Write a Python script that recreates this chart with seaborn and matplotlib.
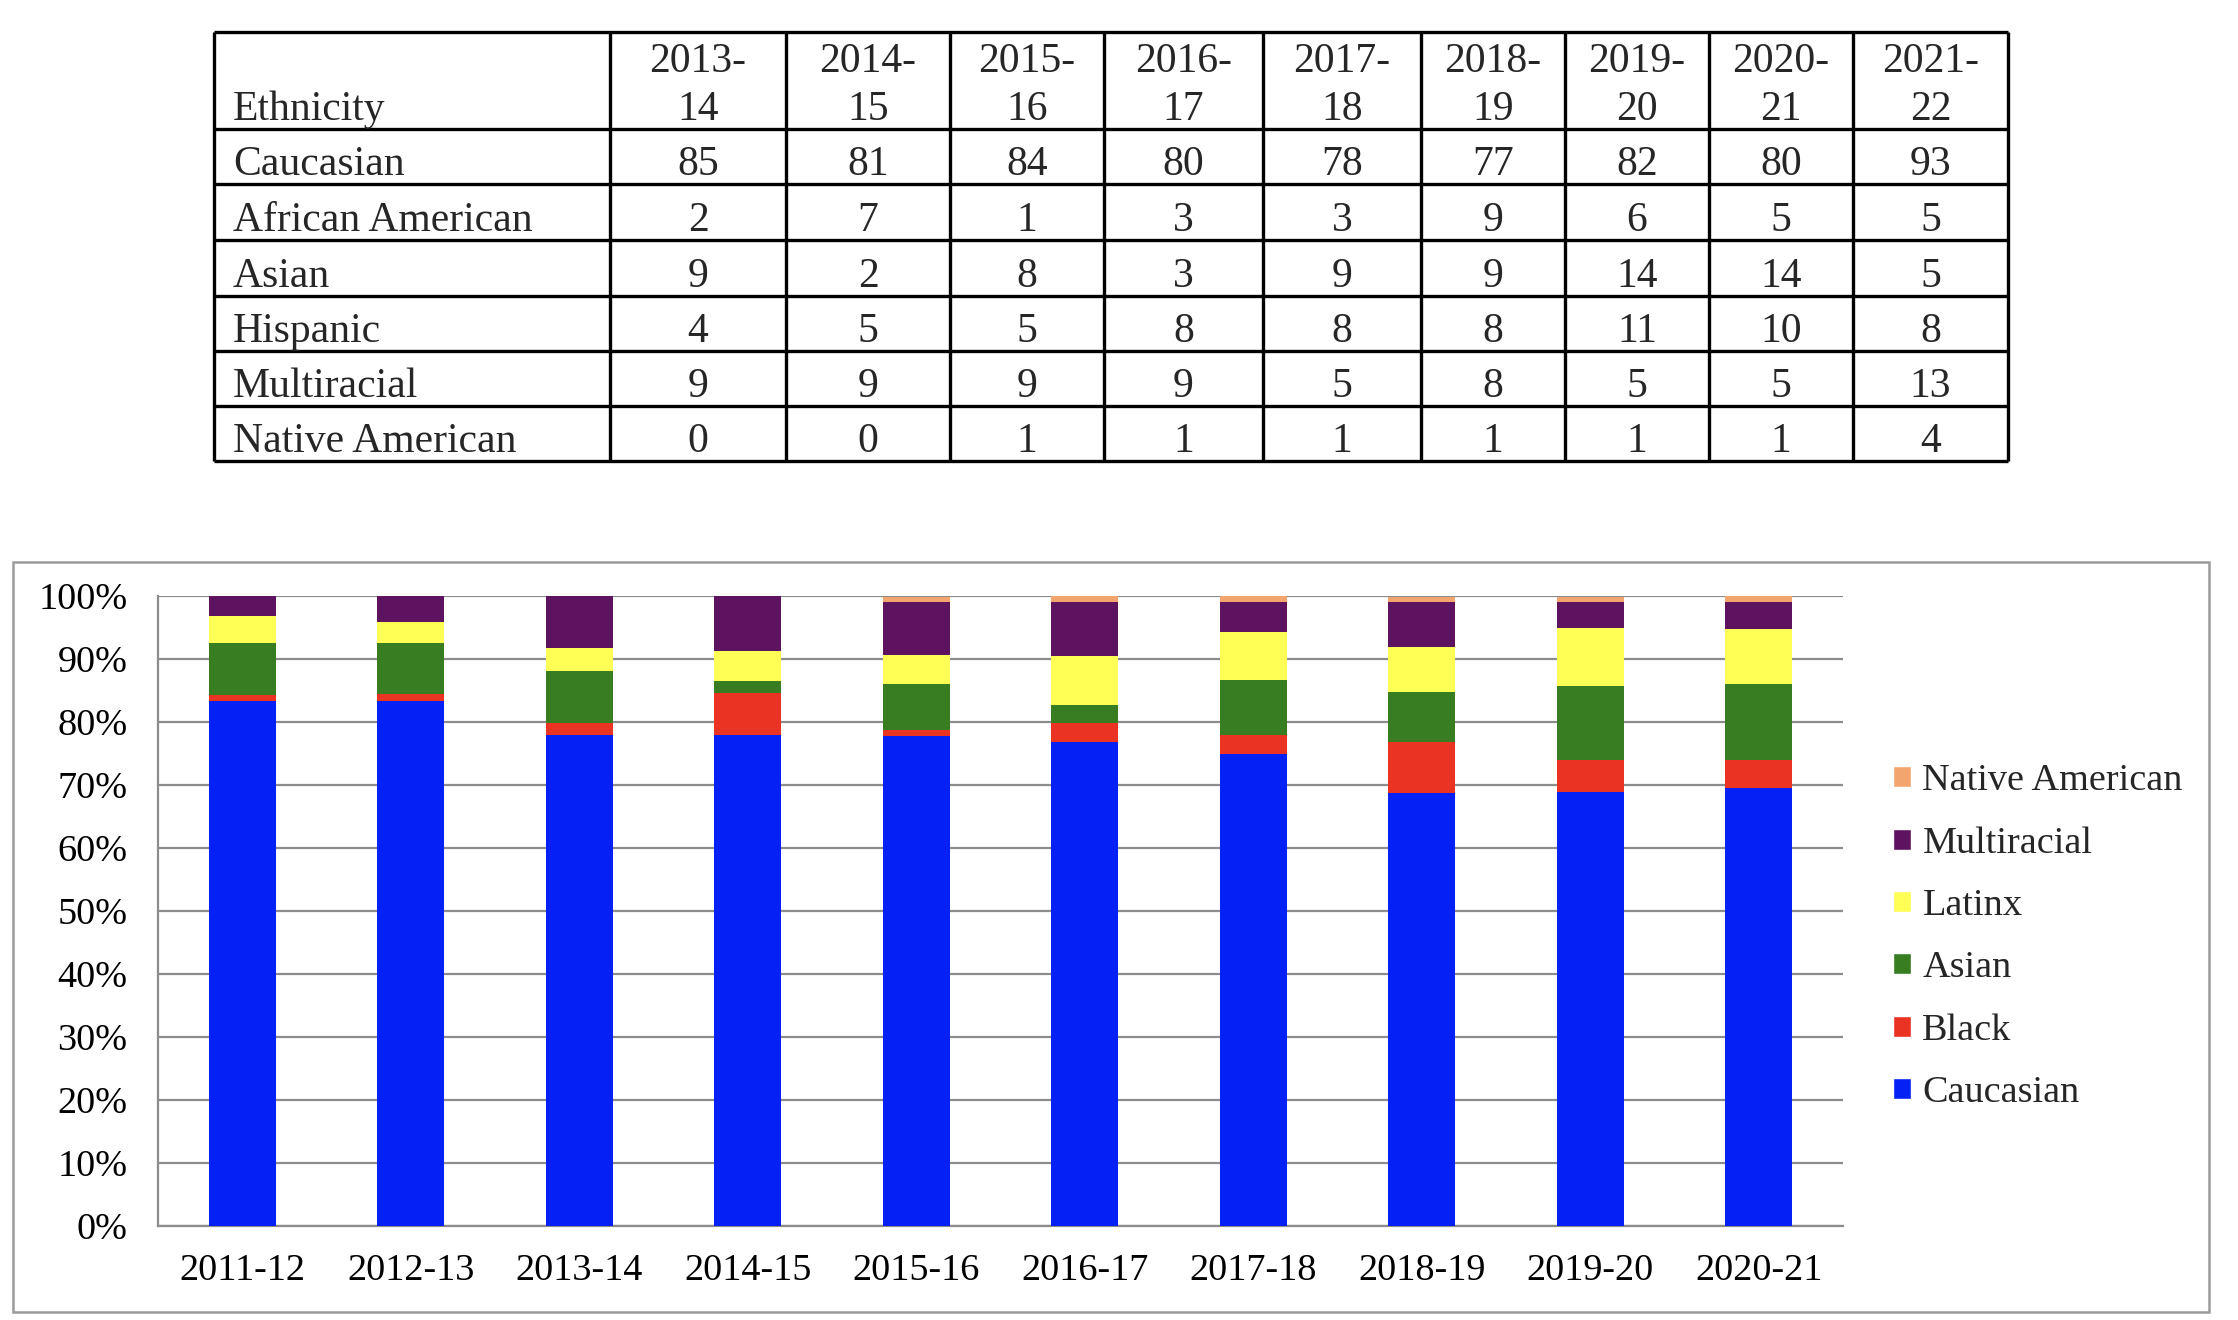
import numpy as np
import pandas as pd
import seaborn as sns
import matplotlib.pyplot as plt
from matplotlib.patches import Patch, Rectangle

# table counts (top)
table_years = ["2013-\n14", "2014-\n15", "2015-\n16", "2016-\n17", "2017-\n18",
               "2018-\n19", "2019-\n20", "2020-\n21", "2021-\n22"]
table_rows = ["Caucasian", "African American", "Asian", "Hispanic", "Multiracial", "Native American"]
cnt_caucasian = [85, 81, 84, 80, 78, 77, 82, 80, 93]
cnt_african = [2, 7, 1, 3, 3, 9, 6, 5, 5]
cnt_asian = [9, 2, 8, 3, 9, 9, 14, 14, 5]
cnt_hispanic = [4, 5, 5, 8, 8, 8, 11, 10, 8]
cnt_multi = [9, 9, 9, 9, 5, 8, 5, 5, 13]
cnt_native = [0, 0, 1, 1, 1, 1, 1, 1, 4]

# stacked percentage chart (bottom)
years = ["2011-12", "2012-13", "2013-14", "2014-15", "2015-16",
         "2016-17", "2017-18", "2018-19", "2019-20", "2020-21"]
caucasian = [83.3, 83.4, 78.0, 77.9, 77.8, 76.9, 75.0, 68.8, 68.9, 69.6]
black = [1.0, 1.1, 1.8, 6.7, 0.9, 2.9, 2.9, 8.0, 5.0, 4.3]
asian = [8.3, 8.1, 8.3, 1.9, 7.4, 2.9, 8.7, 8.0, 11.8, 12.2]
latinx = [4.2, 3.2, 3.7, 4.8, 4.6, 7.7, 7.7, 7.1, 9.2, 8.7]
multiracial = [3.2, 4.2, 8.3, 8.7, 8.3, 8.7, 4.8, 7.1, 4.2, 4.3]
native = [0, 0, 0, 0, 0.9, 1.0, 1.0, 0.9, 0.8, 0.9]

series_names = ["Caucasian", "Black", "Asian", "Latinx", "Multiracial", "Native American"]
series_colors = ["#0421F5", "#EA3323", "#387D22", "#FFFF55", "#5E1360", "#F2A66E"]

sns.set_style("white")
plt.rcParams['font.family'] = ['Liberation Serif', 'DejaVu Serif']

W, H = 2238, 1320
fig = plt.figure(figsize=(W / 100, H / 100), dpi=100)

# ---- table ----
col_edges = [214, 610, 786, 950, 1104, 1263, 1421, 1565, 1709, 1853, 2008]
row_edges = [32, 129, 184, 240, 296, 351, 406, 461]
tax = fig.add_axes([0, 0, 1, 1])
tax.set_xlim(0, W)
tax.set_ylim(H, 0)
tax.axis("off")
tax.hlines(row_edges, col_edges[0], col_edges[-1], color="black", lw=2.4)
tax.vlines(col_edges, row_edges[0], row_edges[-1], color="black", lw=2.4)

tfs = 30
tax.text(col_edges[0] + 19, row_edges[1] - 9, "Ethnicity", fontsize=tfs, va="baseline", ha="left")
for j, lab in enumerate(table_years):
    cx = (col_edges[j + 1] + col_edges[j + 2]) / 2
    top, bot = lab.split("\n")
    tax.text(cx, row_edges[1] - 57, top, fontsize=tfs, va="baseline", ha="center")
    tax.text(cx, row_edges[1] - 9, bot, fontsize=tfs, va="baseline", ha="center")

counts = [cnt_caucasian, cnt_african, cnt_asian, cnt_hispanic, cnt_multi, cnt_native]
for i, (name, vals) in enumerate(zip(table_rows, counts)):
    base = row_edges[i + 2] - 9
    tax.text(col_edges[0] + 19, base, name, fontsize=tfs, va="baseline", ha="left")
    for j, v in enumerate(vals):
        cx = (col_edges[j + 1] + col_edges[j + 2]) / 2
        tax.text(cx, base, str(v), fontsize=tfs, va="baseline", ha="center")

# ---- chart frame ----
fig.add_artist(Rectangle((13 / W, 8 / H), 2196 / W, 750 / H, transform=fig.transFigure,
                         fill=False, edgecolor="#9b9b9b", lw=1.8))

ax = fig.add_axes([158 / W, 1 - 1226 / H, 1685 / W, 630 / H])
gray = "#8c8c8c"

stack = np.cumsum(np.vstack([caucasian, black, asian, latinx, multiracial, native]), axis=0)
for i in reversed(range(len(series_names))):
    sns.barplot(x=years, y=stack[i], color=series_colors[i], width=0.4, saturation=1,
                errorbar=None, ax=ax, linewidth=0, zorder=3)

fs = 27.5
ax.set_ylim(0, 100)
ax.set_xlim(-0.5, len(years) - 0.5)
ax.set_yticks(np.arange(0, 101, 10))
ax.set_yticklabels([f"{t}%" for t in range(0, 101, 10)])
ax.yaxis.grid(True, color=gray, lw=1.6, zorder=0)
ax.set_axisbelow(True)
ax.set_xticks(range(len(years)))
ax.set_xticks(np.arange(-0.5, len(years), 1), minor=True)
ax.tick_params(axis="x", which="major", length=0, pad=20, labelsize=fs)
ax.tick_params(axis="x", which="minor", length=8, width=1.6, color=gray, direction="out")
ax.tick_params(axis="y", length=8, width=1.6, color=gray, pad=14, labelsize=fs)
ax.tick_params(axis="both", colors=gray, labelcolor="black")
for s in ["top", "right"]:
    ax.spines[s].set_visible(False)
for s in ["left", "bottom"]:
    ax.spines[s].set_color(gray)
    ax.spines[s].set_linewidth(1.6)
ax.set_xlabel("")
ax.set_ylabel("")

handles = [Patch(facecolor=c, label=n) for n, c in zip(series_names, series_colors)][::-1]
fig.legend(handles=handles, loc="center left", bbox_to_anchor=(1893 / W, 1 - 937 / H),
           frameon=False, fontsize=fs, handlelength=0.47, handleheight=0.47,
           handletextpad=0.3, labelspacing=0.73, borderpad=0, borderaxespad=0)

fig.savefig("out.png", dpi=100)
